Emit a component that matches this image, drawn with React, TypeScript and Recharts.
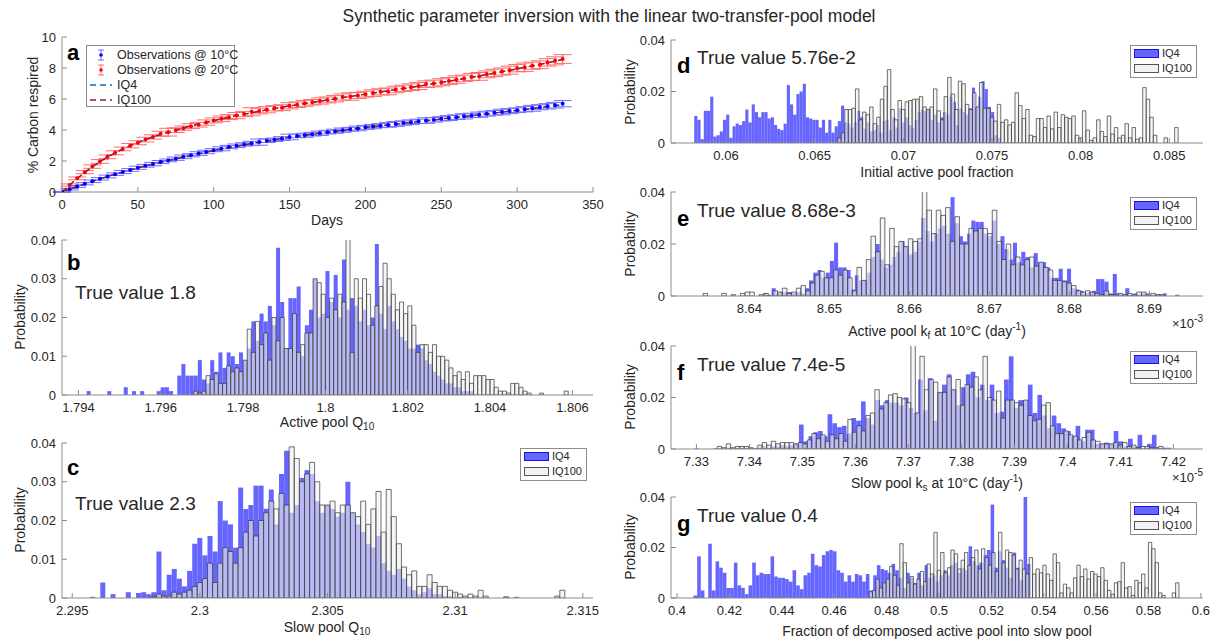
import React from 'react';
import { ComposedChart, Bar, Line, Scatter, ErrorBar, XAxis, YAxis } from 'recharts';

const FONT = '"Liberation Sans", Arial, Helvetica, sans-serif';
const INK = '#262626';
const FRAME = '#8c8c8c';

// ---------- panel a: cumulative respiration ----------
const obsDays = Array.from({ length: 67 }, (_, i) => i * 5);
const fitDays = Array.from({ length: 34 }, (_, i) => i * 10);

const obs10 = [0, 0.18, 0.36, 0.53, 0.69, 0.85, 1.0, 1.15, 1.29, 1.42,
  1.56, 1.69, 1.8, 1.93, 2.04, 2.15, 2.27, 2.37, 2.48, 2.58,
  2.7, 2.79, 2.9, 2.98, 3.07, 3.14, 3.22, 3.31, 3.37, 3.45,
  3.55, 3.62, 3.66, 3.73, 3.79, 3.86, 3.92, 3.99, 4.05, 4.1,
  4.17, 4.22, 4.28, 4.33, 4.39, 4.45, 4.5, 4.56, 4.61, 4.66,
  4.72, 4.77, 4.83, 4.88, 4.94, 4.99, 5.05, 5.11, 5.16, 5.22,
  5.28, 5.34, 5.4, 5.47, 5.53, 5.6, 5.7];
const err10 = [0.02, 0.05, 0.06, 0.07, 0.08, 0.08, 0.09, 0.08, 0.1, 0.09,
  0.1, 0.09, 0.11, 0.1, 0.09, 0.11, 0.12, 0.1, 0.12, 0.11,
  0.1, 0.13, 0.11, 0.12, 0.11, 0.13, 0.2, 0.12, 0.11, 0.12,
  0.18, 0.12, 0.13, 0.12, 0.14, 0.12, 0.13, 0.14, 0.12, 0.15,
  0.13, 0.14, 0.13, 0.15, 0.16, 0.14, 0.15, 0.14, 0.18, 0.15,
  0.14, 0.16, 0.15, 0.17, 0.14, 0.17, 0.16, 0.15, 0.18, 0.16,
  0.15, 0.17, 0.19, 0.16, 0.17, 0.18, 0.2];
const obs20 = [0, 0.45, 0.88, 1.28, 1.64, 1.97, 2.27, 2.53, 2.78, 2.99,
  3.18, 3.38, 3.55, 3.76, 3.86, 3.99, 4.12, 4.25, 4.34, 4.48,
  4.62, 4.72, 4.83, 4.93, 5.03, 5.18, 5.22, 5.31, 5.4, 5.44,
  5.56, 5.63, 5.72, 5.79, 5.87, 5.94, 6.02, 6.13, 6.16, 6.23,
  6.31, 6.38, 6.46, 6.49, 6.61, 6.69, 6.76, 6.84, 6.96, 7.0,
  7.08, 7.16, 7.25, 7.33, 7.42, 7.46, 7.59, 7.68, 7.77, 7.86,
  7.99, 8.05, 8.15, 8.21, 8.36, 8.46, 8.58];
const err20 = [0.03, 0.07, 0.09, 0.1, 0.11, 0.12, 0.12, 0.13, 0.12, 0.14,
  0.13, 0.15, 0.14, 0.16, 0.25, 0.15, 0.14, 0.16, 0.15, 0.17,
  0.16, 0.18, 0.16, 0.2, 0.17, 0.26, 0.18, 0.2, 0.17, 0.19,
  0.2, 0.18, 0.19, 0.18, 0.2, 0.19, 0.21, 0.2, 0.24, 0.2,
  0.19, 0.21, 0.2, 0.22, 0.21, 0.2, 0.22, 0.23, 0.21, 0.22,
  0.23, 0.22, 0.24, 0.21, 0.23, 0.25, 0.22, 0.24, 0.23, 0.26,
  0.24, 0.27, 0.23, 0.25, 0.24, 0.26, 0.28];

const fitIQ4at10 = [0, 0.36, 0.69, 1.0, 1.29, 1.56, 1.8, 2.04, 2.26, 2.47, 2.68, 2.87, 3.05, 3.21, 3.37, 3.52, 3.66,
  3.79, 3.92, 4.04, 4.16, 4.27, 4.38, 4.49, 4.6, 4.71, 4.82, 4.93, 5.04, 5.15, 5.27, 5.39, 5.51, 5.64];
const fitIQ100at10 = [0, 0.36, 0.69, 1.0, 1.29, 1.55, 1.8, 2.03, 2.25, 2.46, 2.67, 2.86, 3.04, 3.21, 3.37, 3.52, 3.66,
  3.79, 3.92, 4.04, 4.16, 4.27, 4.38, 4.49, 4.6, 4.71, 4.82, 4.93, 5.04, 5.15, 5.27, 5.39, 5.51, 5.63];
const fitIQ4at20 = [0, 0.88, 1.64, 2.27, 2.78, 3.19, 3.55, 3.86, 4.13, 4.38, 4.61, 4.82, 5.02, 5.21, 5.39, 5.55, 5.71,
  5.86, 6.01, 6.16, 6.31, 6.46, 6.6, 6.75, 6.91, 7.07, 7.24, 7.41, 7.58, 7.76, 7.95, 8.14, 8.34, 8.55];
const fitIQ100at20 = [0, 0.87, 1.63, 2.26, 2.78, 3.2, 3.56, 3.87, 4.14, 4.39, 4.61, 4.82, 5.02, 5.2, 5.38, 5.55, 5.71,
  5.86, 6.01, 6.16, 6.31, 6.45, 6.6, 6.75, 6.9, 7.06, 7.23, 7.4, 7.57, 7.75, 7.94, 8.13, 8.33, 8.54];

const dayTicks = [0, 50, 100, 150, 200, 250, 300, 350];
const pctTicks = [0, 2, 4, 6, 8, 10];

// ---------- histograms: probability per bin, in units of 0.001 ----------
const q10ActiveIQ4 = [1, 0, 0, 0, 0, 1, 0, 0, 0, 2, 0, 1, 0, 1, 0, 0, 0, 1, 2, 2,
  1, 0, 5, 8, 5, 5, 5, 9, 4, 3, 9, 6, 11, 7, 11, 10, 8, 11, 9, 12,
  19, 14, 21, 19, 23, 18, 38, 24, 12, 25, 25, 28, 10, 18, 22, 30, 20, 21, 32, 24,
  31, 20, 35, 22, 25, 23, 19, 22, 18, 20, 39, 21, 17, 23, 19, 17, 15, 14, 12, 12,
  13, 12, 9, 8, 6, 5, 4, 3, 3, 2, 2, 1, 1, 1];
const q10ActiveIQ100 = [0, 0, 1, 0.5, 1, 5, 4, 5.5, 3, 3, 7.5, 6, 7, 6, 9, 17, 11, 19, 13, 16,
  9, 20, 14, 20, 12, 12, 21, 11, 13, 16, 16, 30, 29, 26, 20, 25, 22, 26, 24, 42,
  11, 30, 25, 30, 26, 18, 23, 28, 34, 30, 26, 22, 24, 21, 23, 18, 11, 13, 13, 11,
  13, 10, 10, 9, 7, 5, 6, 4, 6, 3, 5, 5, 5, 4, 4, 2, 1, 1, 0.5, 3,
  3, 2, 1, 0.5, 0, 0, 0.5, 0, 0, 0, 0, 0, 1, 0];

const q10SlowIQ4 = [0.3, 0, 4, 0, 1, 0, 0, 1.5, 0, 1.3, 1.5, 1, 1.5, 12, 2, 6, 7.5, 5, 3, 7,
  14, 15.5, 11, 16, 12, 25, 20, 19, 13, 28.5, 23, 24, 29, 29, 23, 28, 19, 32, 38, 22,
  24, 31, 33, 32, 25, 22, 24, 23, 21, 22, 30, 22, 19, 17, 14, 13, 16, 9, 7, 6,
  7.5, 5, 3, 2, 1, 1.5, 2.5, 1, 1, 0.5, 0.5, 0, 0.3, 0, 0, 0, 0, 0, 0, 0,
  0, 0.3, 0, 0.3, 0, 0];
const q10SlowIQ100 = [0, 0, 0, 0.3, 1, 0.5, 0.5, 1.5, 1, 1.5, 2, 3, 4, 5, 9, 4, 9, 13, 12, 9,
  13, 17, 20, 16, 20, 22, 25, 23, 27, 24, 39, 36, 30, 32, 35, 30, 24, 24, 25, 22,
  24, 24, 22, 21, 25, 19, 23, 27.5, 17, 28, 21, 14, 8, 6, 7, 3, 3, 6, 4, 3,
  3, 2, 1.5, 1, 0.5, 1, 0.5, 2, 0.5, 0, 0, 0, 0.3, 0, 0, 0, 0, 0, 0, 0,
  0, 0, 0.5, 2, 0, 0];

const fracActiveIQ4 = [10.5, 9, 1.5, 12.5, 12.5, 18, 2.5, 3, 4.5, 9, 11, 2, 6.5, 7.5, 7, 8.5, 13, 8, 15, 12,
  10, 12, 12, 9.5, 10, 7, 5.5, 5, 7.5, 22.5, 15, 11, 19, 20, 23, 10, 9.5, 9, 9, 6,
  9, 4, 9, 4, 6.5, 8.5, 14.5, 8, 7.5, 6, 8, 12.5, 10, 5.5, 8, 4.5, 5, 7, 4, 8.5,
  9, 5, 10, 6, 13.5, 8, 10, 7, 6, 9, 12, 13, 12.5, 13, 9, 11, 8, 10, 12, 11,
  18, 16, 7, 13.5, 12, 11, 13.5, 21.5, 14, 18, 24, 21, 14, 12, 3, 2];
const fracActiveIQ100 = [2, 4, 13, 13, 13.5, 21, 9, 12, 11, 14, 7.5, 10, 17, 22, 28.5, 13, 9, 16.5, 13, 16,
  16.5, 17, 17, 18, 14, 13, 14, 21, 12.5, 9, 18, 25.5, 19, 13, 24, 23, 15, 13, 19.5, 14,
  23.5, 13.5, 13.5, 10, 8.5, 15, 8, 9, 7, 8, 19.5, 14.5, 9.5, 13, 3, 2.5, 9.5, 9.5, 6, 10.5,
  5.5, 12, 6, 11, 10, 9.5, 10.5, 3, 2, 12.5, 5, 1, 2, 9, 4.5, 2.5, 10.5, 3.5, 6, 2,
  3, 7.5, 2, 6, 1.5, 2, 21.5, 17, 10, 3, 0, 0, 2, 0, 0, 6];

const kfIQ4 = [1, 0.5, 3, 1, 1.5, 1.5, 1.5, 1, 1.5, 1, 3, 6, 9, 10, 7, 9, 13.5, 20.5, 11, 11,
  10, 2.5, 8, 6, 6, 9, 15, 20, 14, 11, 12, 15, 17, 21, 19, 16, 17, 21, 30, 25,
  21, 24, 26, 27, 24, 38, 28, 23, 21, 24, 29, 28.5, 28.5, 24, 23, 29, 20, 23, 18, 14,
  20.5, 13, 17, 15, 11, 16.5, 13, 13, 11, 7, 7, 10.5, 6, 10.5, 3, 2.5, 2, 1, 1.5, 2,
  6.5, 6.5, 5.5, 1, 8.5, 1, 0.5, 3, 0.5, 1, 0.5, 1, 1, 0.5, 0.5, 0.5, 1, 0, 0, 0.5];
const kfIQ100 = [1, 0, 0, 0, 1, 0, 0.5, 0, 1, 1.5, 1.5, 0, 0.5, 1, 0, 2, 1.5, 3, 1, 1.5,
  3, 4, 2, 5, 8, 9.5, 7, 7, 10, 8, 10, 7, 2, 11, 6, 14, 23, 17, 30, 12,
  26, 19, 21, 19, 22, 21, 22, 42, 33, 24, 33, 31, 34, 21, 30.5, 20, 20, 26, 25, 26,
  26, 24, 33, 21, 14, 20, 12, 15, 12, 14, 15, 11.5, 13, 11, 10, 6, 6, 5.5, 5, 4,
  2, 1.5, 2, 1.5, 1, 0.5, 2, 0.5, 0.5, 1, 0.5, 1, 0.5, 1.5, 1.5, 0, 1, 0.5, 0.5, 0];

const ksIQ4 = [0.2, 0, 0, 0, 0.3, 0, 0, 0.5, 0.3, 0.5, 0.5, 0.5, 0.3, 0.5, 1, 0.5, 1, 1, 1.5, 1,
  1.5, 2, 9.5, 3, 5, 6.5, 7, 5, 13.5, 10, 8.5, 9, 6, 12, 11, 18.5, 12, 9.5, 19, 17,
  19, 18, 18, 17, 20, 16, 14, 27, 15, 27.5, 11, 22, 25, 29, 23, 17, 24, 29, 30, 20,
  25, 19, 25, 14, 14.5, 27, 36, 16, 19, 19, 25, 14, 21, 13, 8, 13, 10, 8, 7, 5,
  9, 3, 7.5, 7.5, 2, 2, 2.5, 2, 7, 3, 1, 4, 1, 5.5, 0, 2, 5.5, 0.5, 0.5, 0.5];
const ksIQ100 = [0, 1, 0.5, 2, 0.5, 1, 1, 1, 0.5, 0, 1.5, 2.5, 1.5, 3, 2, 2.5, 2.5, 2.5, 2, 2.5,
  2, 3.5, 6, 4, 5.5, 3, 5.5, 4, 6, 3, 11.5, 6.5, 9, 7, 13, 14, 23, 15.5, 18, 21,
  21.5, 20, 19.5, 18, 42, 14, 36, 23, 27, 26, 22, 22, 28, 23, 27, 17, 25, 24, 28, 23,
  36, 20, 19, 22.5, 12, 19, 19, 18, 17, 19, 13, 11, 11.5, 17, 18, 9, 6, 6, 7, 5.5,
  5, 3.5, 4.5, 6.5, 3.5, 3, 2, 2, 2, 2.5, 1.5, 2.5, 1, 1.5, 0.5, 1, 1, 0.5, 0.5, 1];

const transferIQ4 = [1, 16.5, 3, 0, 21.5, 3, 14.5, 12, 10, 4, 4, 14, 5, 4, 1.5, 5, 14, 9, 10, 9.5,
  9.5, 16.5, 8.5, 8, 8, 7.5, 6.5, 11, 5, 3.5, 9, 10, 17.5, 13, 12.5, 17, 18.5, 19, 18.5, 11,
  10, 6.5, 9, 6.5, 9.5, 9, 6.5, 9.5, 3, 9, 13, 11.5, 11, 10, 13.5, 11, 8, 4, 10, 8,
  6, 10, 5, 13, 8, 9, 6.5, 9, 11, 9, 13, 14, 10, 12, 11, 20.5, 14.5, 13, 14, 17,
  19, 37, 12, 18.5, 15, 12, 8, 18, 12, 7, 40, 13.5];
const transferIQ100 = [2.5, 3, 7.5, 4, 6, 7.5, 12.5, 9, 5, 21.5, 14, 6, 8.5, 5.5, 7.5, 10.5, 6.5, 13.5, 9.5, 26,
  11, 18, 10, 12, 19, 17.5, 11.5, 15, 18, 13, 16, 19, 11.5, 19.5, 16, 13, 18, 10.5, 26, 14,
  19, 18, 17, 11.5, 15, 11.5, 9.5, 16, 9.5, 11.5, 10, 13, 9.5, 7, 17.5, 14, 2, 5.5, 4, 2,
  8, 13, 8.5, 11.5, 7.5, 10.5, 9.5, 8.5, 12, 7, 3, 1.5, 6, 6.5, 14, 4, 4.5, 1, 7, 6,
  9.5, 4, 22, 19.5, 14, 2, 1, 0, 0, 2, 6, 0];

const probTicks4 = [0, 10, 20, 30, 40];
const probTicks2 = [0, 20, 40];
const q10ActiveTicks = [1.794, 1.796, 1.798, 1.8, 1.802, 1.804, 1.806];
const q10SlowTicks = [2.295, 2.3, 2.305, 2.31, 2.315];
const fracActiveTicks = [0.06, 0.065, 0.07, 0.075, 0.08, 0.085];
const kfTicks = [8.64, 8.65, 8.66, 8.67, 8.68, 8.69];
const ksTicks = [7.33, 7.34, 7.35, 7.36, 7.37, 7.38, 7.39, 7.4, 7.41, 7.42];
const transferTicks = [0.4, 0.42, 0.44, 0.46, 0.48, 0.5, 0.52, 0.54, 0.56, 0.58, 0.6];

// ---------- layout ----------
type Box = { left: number; top: number; width: number; height: number };
const BOX: Record<string, Box> = {
  a: { left: 62, top: 37, width: 531, height: 155 },
  b: { left: 62, top: 240, width: 531, height: 155 },
  c: { left: 62, top: 443, width: 531, height: 155 },
  d: { left: 671, top: 40, width: 532, height: 103 },
  e: { left: 671, top: 192, width: 532, height: 104 },
  f: { left: 671, top: 346, width: 532, height: 103 },
  g: { left: 671, top: 497, width: 532, height: 101 },
};
const PAD_L = 70, PAD_T = 8, PAD_R = 20, PAD_B = 44;

const TICK = { fill: INK, fontSize: 13, fontFamily: FONT };
const line = { stroke: FRAME };
const xBottom: any = { type: 'number', allowDataOverflow: true, interval: 0, tickSize: -5, tickMargin: 13, axisLine: line, tickLine: line, tick: TICK, height: PAD_B, tickFormatter: (v: number) => String(v) };
const xTop: any = { type: 'number', orientation: 'top', allowDataOverflow: true, interval: 0, tickSize: -5, axisLine: line, tickLine: line, tick: false, height: 0 };
const yLeft: any = { type: 'number', allowDataOverflow: true, interval: 0, tickSize: -5, tickMargin: 11, axisLine: line, tickLine: line, tick: TICK, width: PAD_L };
const yRight: any = { type: 'number', orientation: 'right', allowDataOverflow: true, interval: 0, tickSize: -5, axisLine: line, tickLine: line, tick: false, width: 0 };
const permil = (v: number) => (v === 0 ? '0' : String(+(v / 1000).toFixed(3)));

function frame(box: Box): React.CSSProperties {
  return { position: 'absolute', left: box.left - PAD_L, top: box.top - PAD_T };
}

type Hist = { start: number; width: number; values: number[] };

function HistPanel({ box, domain, xTicks, yTicks, iq4, iq100 }: { box: Box; domain: [number, number]; xTicks: number[]; yTicks: number[]; iq4: Hist; iq100: Hist }) {
  const n = Math.max(iq4.values.length, iq100.values.length);
  const rows = Array.from({ length: n }, (_, i) => ({
    x4: iq4.start + iq4.width * i,
    p4: iq4.values[i] ?? 0,
    x100: iq100.start + iq100.width * i,
    p100: iq100.values[i] ?? 0,
  }));
  const px = box.width / (domain[1] - domain[0]);
  return (
    <div style={frame(box)}>
      <ComposedChart width={box.width + PAD_L + PAD_R} height={box.height + PAD_T + PAD_B} data={rows}
        margin={{ top: PAD_T, right: PAD_R, bottom: 0, left: 0 }}>
        <XAxis xAxisId="b" dataKey="x4" domain={domain} ticks={xTicks} {...xBottom} />
        <XAxis xAxisId="t" dataKey="x100" domain={domain} ticks={xTicks} {...xTop} />
        <YAxis yAxisId="l" domain={[0, 40]} ticks={yTicks} tickFormatter={permil} {...yLeft} />
        <YAxis yAxisId="r" domain={[0, 40]} ticks={yTicks} {...yRight} />
        <Bar xAxisId="b" yAxisId="l" dataKey="p4" barSize={iq4.width * px * 0.98} fill="#0000ff" fillOpacity={0.6} isAnimationActive={false} />
        <Bar xAxisId="t" yAxisId="r" dataKey="p100" barSize={iq100.width * px * 0.98} fill="#f0f0f0" fillOpacity={0.6} stroke="#333" strokeWidth={0.7} isAnimationActive={false} />
      </ComposedChart>
    </div>
  );
}

const dot = (color: string) => (p: any) => <circle cx={p.cx} cy={p.cy} r={2} fill={color} />;

function CurvePanel() {
  const box = BOX.a;
  const rows10 = obsDays.map((day, i) => ({ day, v: obs10[i], err: err10[i] }));
  const rows20 = obsDays.map((day, i) => ({ day, v: obs20[i], err: err20[i] }));
  const fit = (vals: number[]) => fitDays.map((day, i) => ({ day, v: vals[i] }));
  return (
    <div style={frame(box)}>
      <ComposedChart width={box.width + PAD_L + PAD_R} height={box.height + PAD_T + PAD_B}
        margin={{ top: PAD_T, right: PAD_R, bottom: 0, left: 0 }}>
        <XAxis xAxisId="b" dataKey="day" domain={[0, 350]} ticks={dayTicks} {...xBottom} />
        <XAxis xAxisId="t" dataKey="day" domain={[0, 350]} ticks={dayTicks} {...xTop} />
        <YAxis yAxisId="l" domain={[0, 10]} ticks={pctTicks} {...yLeft} />
        <YAxis yAxisId="r" domain={[0, 10]} ticks={pctTicks} {...yRight} />
        <Scatter xAxisId="b" yAxisId="l" data={rows20} dataKey="v" shape={dot('#ff0000')} isAnimationActive={false}>
          <ErrorBar dataKey="err" direction="y" width={9} stroke="#ff6a6a" strokeWidth={1} />
        </Scatter>
        <Scatter xAxisId="b" yAxisId="l" data={rows10} dataKey="v" shape={dot('#0000ff')} isAnimationActive={false}>
          <ErrorBar dataKey="err" direction="y" width={9} stroke="#7070ff" strokeWidth={1} />
        </Scatter>
        <Line xAxisId="t" yAxisId="r" data={fit(fitIQ4at10)} dataKey="v" stroke="#0072BD" strokeWidth={1.3} strokeDasharray="6 4" dot={false} isAnimationActive={false} />
        <Line xAxisId="t" yAxisId="r" data={fit(fitIQ4at20)} dataKey="v" stroke="#0072BD" strokeWidth={1.3} strokeDasharray="6 4" dot={false} isAnimationActive={false} />
        <Line xAxisId="t" yAxisId="r" data={fit(fitIQ100at10)} dataKey="v" stroke="#A2142F" strokeWidth={1.3} strokeDasharray="6 4" dot={false} isAnimationActive={false} />
        <Line xAxisId="t" yAxisId="r" data={fit(fitIQ100at20)} dataKey="v" stroke="#A2142F" strokeWidth={1.3} strokeDasharray="6 4" dot={false} isAnimationActive={false} />
      </ComposedChart>
    </div>
  );
}

function T({ x, y, size = 14, weight = 400, anchor = 'middle', rotate = false, children }: any) {
  const tx = anchor === 'middle' ? '-50%' : anchor === 'end' ? '-100%' : '0';
  return (
    <div style={{
      position: 'absolute', left: x, top: y, whiteSpace: 'nowrap', fontFamily: FONT, fontSize: size,
      fontWeight: weight, color: weight > 400 ? '#000' : INK, lineHeight: 1,
      transform: `translate(${tx},-50%)${rotate ? ' rotate(-90deg)' : ''}`,
    }}>{children}</div>
  );
}

function HistLegend({ box }: { box: Box }) {
  const sw = (bg: string, border: string, top: number) => (
    <div style={{ position: 'absolute', left: 3, top, width: 25, height: 9, background: bg, border: `1px solid ${border}`, boxSizing: 'border-box' }} />
  );
  const lbl = (text: string, top: number) => (
    <div style={{ position: 'absolute', left: 31, top, fontSize: 11, fontFamily: FONT, color: INK, lineHeight: '11px' }}>{text}</div>
  );
  return (
    <div style={{ position: 'absolute', left: box.left + box.width - 73, top: box.top + 5, width: 67, height: 33, background: '#fff', border: `1px solid ${FRAME}`, boxSizing: 'border-box' }}>
      {sw('rgba(0,0,255,0.6)', 'rgba(0,0,220,0.8)', 3)}
      {lbl('IQ4', 2)}
      {sw('#f2f2f2', '#555', 18)}
      {lbl('IQ100', 17)}
    </div>
  );
}

function CurveLegend() {
  const rowY = [9, 24, 39, 54];
  const errMark = (color: string, bar: string) => (
    <svg width={24} height={14} style={{ position: 'absolute', left: 2, top: -7 }}>
      <line x1={12} y1={2} x2={12} y2={12} stroke={bar} />
      <line x1={9} y1={2} x2={15} y2={2} stroke={bar} />
      <line x1={9} y1={12} x2={15} y2={12} stroke={bar} />
      <circle cx={12} cy={7} r={1.8} fill={color} />
    </svg>
  );
  const dash = (color: string) => (
    <svg width={24} height={4} style={{ position: 'absolute', left: 2, top: -2 }}>
      <line x1={1} y1={2} x2={23} y2={2} stroke={color} strokeWidth={1.5} strokeDasharray="6 4" />
    </svg>
  );
  const entries = [
    { mark: errMark('#0000ff', '#7070ff'), text: 'Observations @ 10°C' },
    { mark: errMark('#ff0000', '#ff6a6a'), text: 'Observations @ 20°C' },
    { mark: dash('#0072BD'), text: 'IQ4' },
    { mark: dash('#A2142F'), text: 'IQ100' },
  ];
  return (
    <div style={{ position: 'absolute', left: 86, top: 45, width: 149, height: 62, background: '#fff', border: `1px solid ${FRAME}`, boxSizing: 'border-box' }}>
      {entries.map((e, i) => (
        <div key={i} style={{ position: 'absolute', left: 0, top: rowY[i] }}>
          {e.mark}
          <div style={{ position: 'absolute', left: 30, top: -7, fontSize: 12.5, fontFamily: FONT, color: INK, whiteSpace: 'nowrap', lineHeight: '14px' }}>{e.text}</div>
        </div>
      ))}
    </div>
  );
}

const sub = (s: string) => <sub style={{ fontSize: 10, verticalAlign: '-3px' }}>{s}</sub>;
const sup = (s: string) => <sup style={{ fontSize: 10, verticalAlign: '6px' }}>{s}</sup>;

export default function App() {
  return (
    <div style={{ position: 'absolute', left: 0, top: 0, width: 1219, height: 641, background: '#fff', overflow: 'hidden' }}>
      <CurvePanel />
      <HistPanel box={BOX.b} domain={[1.7936, 1.8065]} xTicks={q10ActiveTicks} yTicks={probTicks4}
        iq4={{ start: 1.79425, width: 0.0001, values: q10ActiveIQ4 }} iq100={{ start: 1.79665, width: 0.0001, values: q10ActiveIQ100 }} />
      <HistPanel box={BOX.c} domain={[2.2946, 2.3154]} xTicks={q10SlowTicks} yTicks={probTicks4}
        iq4={{ start: 2.2958, width: 0.0002, values: q10SlowIQ4 }} iq100={{ start: 2.2976, width: 0.0002, values: q10SlowIQ100 }} />
      <HistPanel box={BOX.d} domain={[0.0569, 0.0869]} xTicks={fracActiveTicks} yTicks={probTicks2}
        iq4={{ start: 0.0583, width: 0.00018, values: fracActiveIQ4 }} iq100={{ start: 0.0664, width: 0.0002, values: fracActiveIQ100 }} />
      <HistPanel box={BOX.e} domain={[8.6302, 8.6967]} xTicks={kfTicks} yTicks={probTicks2}
        iq4={{ start: 8.642, width: 0.00052, values: kfIQ4 }} iq100={{ start: 8.6345, width: 0.000583, values: kfIQ100 }} />
      <HistPanel box={BOX.f} domain={[7.3252, 7.4256]} xTicks={ksTicks} yTicks={probTicks2}
        iq4={{ start: 7.33, width: 0.0009, values: ksIQ4 }} iq100={{ start: 7.3335, width: 0.00085, values: ksIQ100 }} />
      <HistPanel box={BOX.g} domain={[0.3977, 0.6008]} xTicks={transferTicks} yTicks={probTicks2}
        iq4={{ start: 0.407, width: 0.0014, values: transferIQ4 }} iq100={{ start: 0.474, width: 0.0013, values: transferIQ100 }} />

      <T x={609} y={17} size={17.5}>Synthetic parameter inversion with the linear two-transfer-pool model</T>

      <CurveLegend />
      <HistLegend box={BOX.c} />
      <HistLegend box={BOX.d} />
      <HistLegend box={BOX.e} />
      <HistLegend box={BOX.f} />
      <HistLegend box={BOX.g} />

      <T x={67} y={53} size={22} weight={700} anchor="start">a</T>
      <T x={67} y={263} size={22} weight={700} anchor="start">b</T>
      <T x={67} y={468} size={22} weight={700} anchor="start">c</T>
      <T x={677} y={66} size={22} weight={700} anchor="start">d</T>
      <T x={677} y={219} size={22} weight={700} anchor="start">e</T>
      <T x={677} y={373} size={22} weight={700} anchor="start">f</T>
      <T x={677} y={524} size={22} weight={700} anchor="start">g</T>

      <T x={75} y={292} size={19} anchor="start">True value 1.8</T>
      <T x={75} y={503} size={19} anchor="start">True value 2.3</T>
      <T x={697} y={57} size={19} anchor="start">True value 5.76e-2</T>
      <T x={697} y={210} size={19} anchor="start">True value 8.68e-3</T>
      <T x={697} y={364} size={19} anchor="start">True value 7.4e-5</T>
      <T x={697} y={515} size={19} anchor="start">True value 0.4</T>

      <T x={327} y={220}>Days</T>
      <T x={33} y={115} rotate>% Carbon respired</T>
      <T x={327} y={423}>Active pool Q{sub('10')}</T>
      <T x={20} y={317} rotate>Probability</T>
      <T x={327} y={628}>Slow pool Q{sub('10')}</T>
      <T x={20} y={520} rotate>Probability</T>
      <T x={937} y={172}>Initial active pool fraction</T>
      <T x={630} y={92} rotate>Probability</T>
      <T x={937} y={331}>Active pool k{sub('f')} at 10°C (day{sup('-1')})</T>
      <T x={630} y={244} rotate>Probability</T>
      <T x={1203} y={322} size={13} anchor="end">×10{sup('-3')}</T>
      <T x={937} y={483}>Slow pool k{sub('s')} at 10°C (day{sup('-1')})</T>
      <T x={630} y={397} rotate>Probability</T>
      <T x={1203} y={476} size={13} anchor="end">×10{sup('-5')}</T>
      <T x={937} y={631}>Fraction of decomposed active pool into slow pool</T>
      <T x={630} y={547} rotate>Probability</T>
    </div>
  );
}
